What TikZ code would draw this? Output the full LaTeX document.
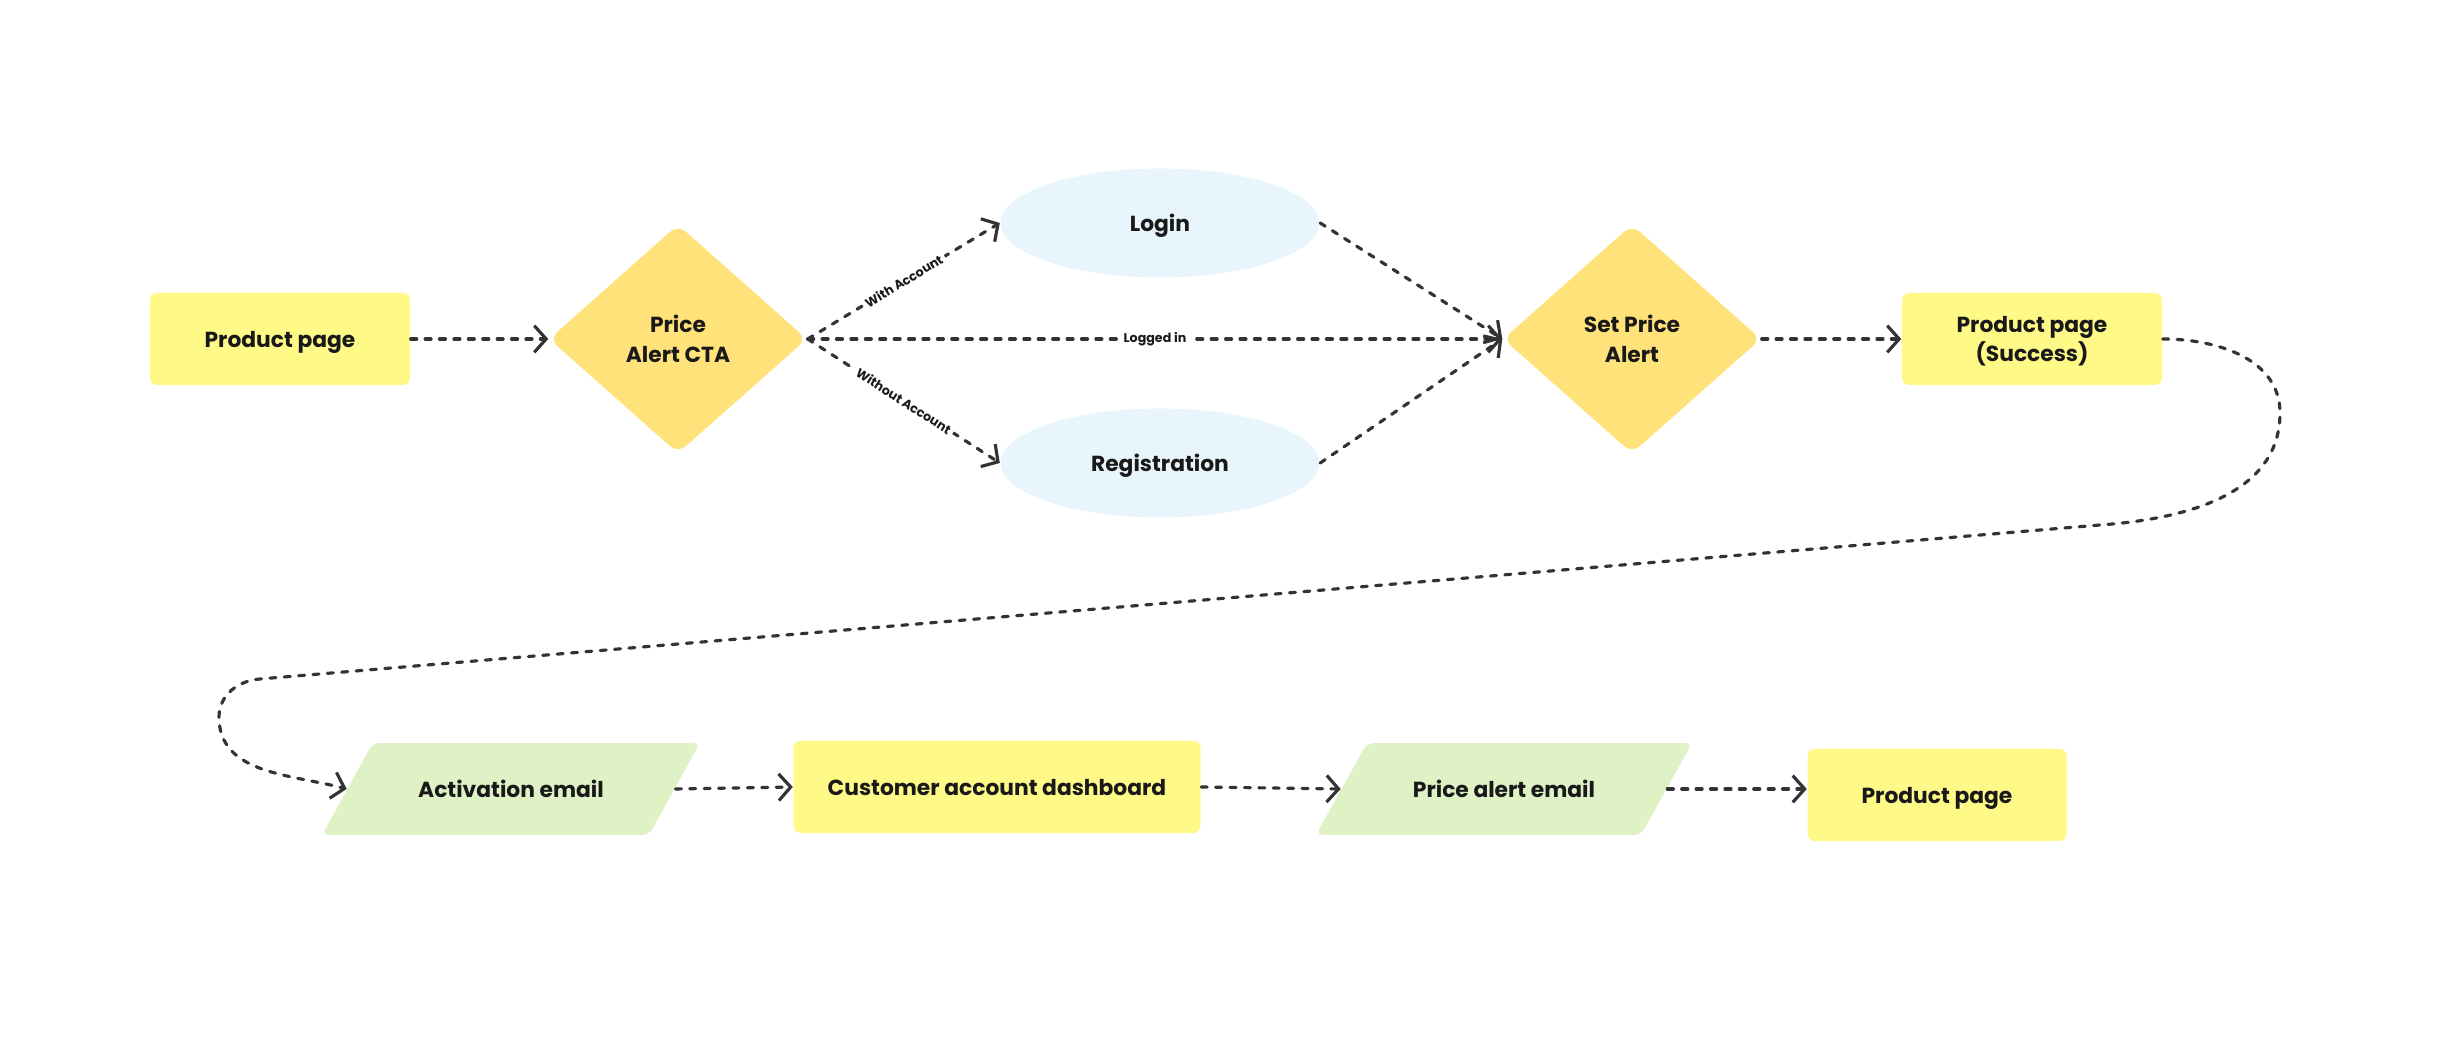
\documentclass[tikz,border=0pt]{standalone}
\usepackage{fontspec}
\setmainfont{Poppins}
\usetikzlibrary{shapes.geometric,arrows.meta}
\definecolor{pageyellow}{HTML}{FFF987}
\definecolor{decisionyellow}{HTML}{FFE27A}
\definecolor{authblue}{HTML}{E8F5FC}
\definecolor{mailgreen}{HTML}{DFF2C5}
\definecolor{ink}{HTML}{333333}
\begin{document}
\begin{tikzpicture}[line join=round, line cap=round, >={Straight Barb[length=3.4pt,width=7.6pt]},
    font=\fontsize{6.2}{8.5}\selectfont\bfseries,
    page/.style={fill=pageyellow, rounded corners=2pt, minimum width=2.6cm, minimum height=0.92cm, align=center, text depth=0pt, text=black!90},
    decision/.style={diamond, fill=decisionyellow, rounded corners=3pt, minimum width=2.58cm, minimum height=2.29cm, inner sep=0pt, align=center, text=black!90},
    auth/.style={ellipse, fill=authblue, minimum width=3.19cm, minimum height=1.09cm, text depth=0pt, text=black!90},
    mail/.style={trapezium, trapezium stretches=true, trapezium left angle=47, trapezium right angle=133, fill=mailgreen, rounded corners=2pt, minimum width=3.78cm, minimum height=0.92cm, text=black!90},
    flow/.style={->, draw=ink, line width=0.9pt, dash pattern=on 1.7pt off 2.4pt},
    branch/.style={midway, sloped, fill=white, inner sep=1pt, text=black!90, font=\fontsize{3.6}{4}\selectfont\bfseries}]
    \useasboundingbox (0,0) rectangle (24.47,10.57);
    % first row
    \node[page] (prod) at (2.80,7.18) {Product page};
    \node[decision] (cta) at (6.78,7.18) {Price\\Alert CTA};
    \node[auth] (login) at (11.60,8.34) {Login};
    \node[auth] (reg) at (11.60,5.94) {Registration};
    \node[decision] (setalert) at (16.32,7.18) {Set Price\\Alert};
    \node[page] (success) at (20.32,7.18) {Product page\\(Success)};
    % second row
    \node[mail] (activation) at (5.11,2.68) {Activation email};
    \node[page, minimum width=4.07cm] (dashboard) at (9.97,2.70) {Customer account dashboard};
    \node[mail] (alertmail) at (15.04,2.68) {Price alert email};
    \node[page, minimum width=2.59cm] (final) at (19.37,2.62) {Product page};
    % connectors
    \draw[flow] (prod) -- (cta);
    \draw[flow] (cta.east) -- (login.west) node[branch] {With Account};
    \draw[flow] (cta.east) -- (setalert.west) node[branch] {Logged in};
    \draw[flow] (cta.east) -- (reg.west) node[branch] {Without Account};
    \draw[flow] (login.east) -- (setalert.west);
    \draw[flow] (reg.east) -- (setalert.west);
    \draw[flow] (setalert) -- (success);
    \draw[flow] (success.east) to[out=0,in=90] (22.80,6.44) to[out=-90,in=4] (21.0,5.32)
        -- (2.6,3.78) to[out=184,in=90] (2.19,3.40) to[out=-90,in=165] (activation.west);
    \draw[flow] (activation.east) -- (dashboard.west);
    \draw[flow] (dashboard.east) -- (alertmail.west);
    \draw[flow] (alertmail.east) -- (alertmail.east -| final.west);
\end{tikzpicture}
\end{document}
